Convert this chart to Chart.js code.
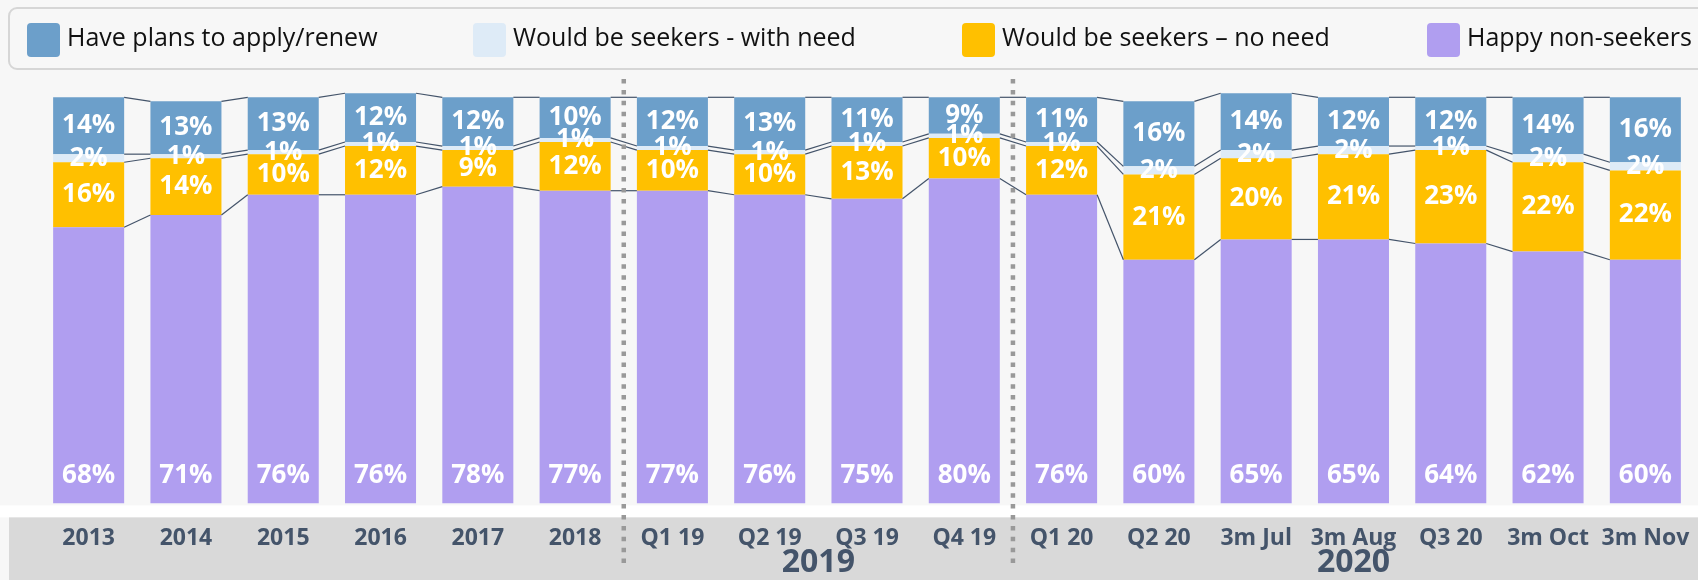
<!DOCTYPE html>
<html>
<head>
<meta charset="utf-8">
<title>Application plans</title>
<script src="https://cdn.jsdelivr.net/npm/chart.js@4.4.1/dist/chart.umd.min.js"></script>
<style>
  html, body { margin: 0; padding: 0; background: #f7f7f7; }
  #wrap { width: 1698px; height: 580px; position: relative; }
</style>
</head>
<body onload="handleOnLoad()">
<div id="wrap"><canvas id="myChart"></canvas></div>
<script>
// categories along the bottom
const periods = ['2013', '2014', '2015', '2016', '2017', '2018', 'Q1 19', 'Q2 19', 'Q3 19', 'Q4 19',
                 'Q1 20', 'Q2 20', '3m Jul', '3m Aug', 'Q3 20', '3m Oct', '3m Nov']

// series values (%)
const havePlans       = [14, 13, 13, 12, 12, 10, 12, 13, 11,  9, 11, 16, 14, 12, 12, 14, 16]
const withNeed        = [ 2,  1,  1,  1,  1,  1,  1,  1,  1,  1,  1,  2,  2,  2,  1,  2,  2]
const noNeed          = [16, 14, 10, 12,  9, 12, 10, 10, 13, 10, 12, 21, 20, 21, 23, 22, 22]
const happyNonSeekers = [68, 71, 76, 76, 78, 77, 77, 76, 75, 80, 76, 60, 65, 65, 64, 62, 60]

const seriesNames   = ['Have plans to apply/renew', 'Would be seekers - with need', 'Would be seekers – no need', 'Happy non-seekers']
const seriesColours = ['#6c9fca', '#deebf7', '#ffc000', '#b09ef0']

// year groups under the axis
const groupLabels = ['2019', '2020']
const groupFirst  = [6, 10]
const groupLast   = [9, 16]

const axisColour = '#44546a'

function handleOnLoad(){
    createReport()
}

// page background, white gap and grey band behind the axis labels
const backdrop = {
  id: 'backdrop',
  beforeDraw(chart) {
    const ctx = chart.ctx
    const w = chart.width, h = chart.height
    const bottom = chart.chartArea.bottom
    ctx.save()
    ctx.fillStyle = '#f7f7f7'
    ctx.fillRect(0, 0, w, bottom + 2)
    ctx.fillStyle = '#ffffff'
    ctx.fillRect(0, bottom + 2, w, 12)
    ctx.fillStyle = '#d9d9d9'
    ctx.fillRect(9, bottom + 14, w - 9, h - bottom - 14)
    ctx.restore()
  }
}

// thin lines joining the segment edges of neighbouring bars
const connectors = {
  id: 'connectors',
  afterDatasetsDraw(chart) {
    const ctx = chart.ctx
    ctx.save()
    ctx.strokeStyle = axisColour
    ctx.lineWidth = 1.2
    chart.data.datasets.forEach((ds, d) => {
      const bars = chart.getDatasetMeta(d).data
      for (let i = 0; i < bars.length - 1; i++) {
        const a = bars[i], b = bars[i + 1]
        ctx.beginPath()
        ctx.moveTo(a.x + a.width / 2, a.y)
        ctx.lineTo(b.x - b.width / 2, b.y)
        ctx.stroke()
      }
    })
    ctx.restore()
  }
}

// white % labels inside the segments
const barLabels = {
  id: 'barLabels',
  afterDatasetsDraw(chart) {
    const ctx = chart.ctx
    ctx.save()
    ctx.fillStyle = '#ffffff'
    ctx.font = "bold 26px 'Open Sans'"
    ctx.textAlign = 'center'
    ctx.textBaseline = 'middle'
    chart.data.datasets.forEach((ds, d) => {
      chart.getDatasetMeta(d).data.forEach((bar, i) => {
        // bottom series is labelled near the base, the rest in the middle
        const y = d === 0 ? bar.base - 28 : (bar.y + bar.base) / 2
        ctx.fillText(ds.data[i] + '%', bar.x, y)
      })
    })
    ctx.restore()
  }
}

// legend box, dotted year separators and year labels
const decorations = {
  id: 'decorations',
  afterDraw(chart) {
    const ctx = chart.ctx
    const xs = chart.scales.x
    ctx.save()

    // legend
    ctx.strokeStyle = '#d6d6d6'
    ctx.lineWidth = 2
    ctx.beginPath()
    ctx.roundRect(9, 8, chart.width + 20, 61, 8)
    ctx.stroke()
    const itemX = [27, 473, 962, 1427]
    ctx.font = "25px 'Open Sans'"
    ctx.textAlign = 'left'
    ctx.textBaseline = 'alphabetic'
    seriesNames.forEach((name, k) => {
      ctx.fillStyle = seriesColours[k]
      ctx.beginPath()
      ctx.roundRect(itemX[k], 23, 33, 34, 4)
      ctx.fill()
      ctx.fillStyle = '#111111'
      ctx.fillText(name, itemX[k] + 40, 46)
    })

    // dotted separators before each year group
    ctx.strokeStyle = '#999999'
    ctx.lineWidth = 4.5
    ctx.setLineDash([4.5, 6.4])
    groupFirst.forEach(g => {
      const x = (xs.getPixelForValue(g - 1) + xs.getPixelForValue(g)) / 2
      ctx.beginPath()
      ctx.moveTo(x, 79)
      ctx.lineTo(x, 563)
      ctx.stroke()
    })
    ctx.setLineDash([])

    // year labels
    ctx.fillStyle = axisColour
    ctx.font = "bold 32px 'Open Sans'"
    ctx.textAlign = 'center'
    ctx.textBaseline = 'middle'
    groupLabels.forEach((label, k) => {
      const x = (xs.getPixelForValue(groupFirst[k]) + xs.getPixelForValue(groupLast[k])) / 2
      ctx.fillText(label, x, 563)
    })
    ctx.restore()
  }
}

function createReport(){
    Chart.defaults.font.family = "'Open Sans', sans-serif"
    const ctx = document.getElementById('myChart').getContext('2d')
    const myChart = new Chart(ctx, {
      type: 'bar',
      data: {
        labels: periods,
        // stacked from the bottom up
        datasets: [
          { label: seriesNames[3], data: happyNonSeekers, backgroundColor: seriesColours[3] },
          { label: seriesNames[2], data: noNeed, backgroundColor: seriesColours[2] },
          { label: seriesNames[1], data: withNeed, backgroundColor: seriesColours[1] },
          { label: seriesNames[0], data: havePlans, backgroundColor: seriesColours[0] }
        ]
      },
      options: {
        responsive: true,
        maintainAspectRatio: false,
        animation: false,
        layout: { padding: { top: 77, left: 40, right: 4, bottom: 7 } },
        datasets: { bar: { barPercentage: 0.73, categoryPercentage: 1 } },
        scales: {
          x: {
            stacked: true,
            grid: { display: false, drawTicks: false },
            border: { display: false },
            ticks: {
              color: axisColour,
              font: { size: 23, weight: 'bold' },
              padding: 21,
              maxRotation: 0,
              autoSkip: false
            },
            // labels fit inside the offset bins, no side padding needed
            afterFit(scale) {
              scale.paddingLeft = 0
              scale.paddingRight = 0
            }
          },
          y: {
            stacked: true,
            display: false,
            min: 0,
            max: 105
          }
        },
        plugins: {
          legend: { display: false },
          tooltip: { enabled: false }
        }
      },
      plugins: [backdrop, connectors, barLabels, decorations]
    })
}
</script>
</body>
</html>
